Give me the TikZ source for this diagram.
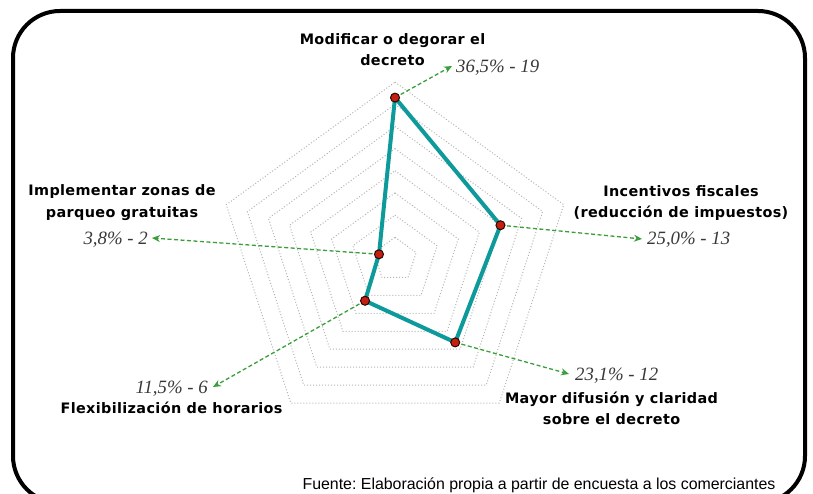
\documentclass[tikz,border=0pt]{standalone}
\usepackage{fontspec}
\setmainfont{Liberation Sans}
\newfontfamily\labfont{DejaVu Sans}[LetterSpace=2.5]
\newfontfamily\valfont{Liberation Serif}
\usetikzlibrary{arrows.meta,calc}
\definecolor{teal1}{HTML}{0E9A9A}
\definecolor{arrg}{HTML}{3A9E3A}
\definecolor{mred}{HTML}{C42010}
\definecolor{valc}{HTML}{383838}
\definecolor{gridc}{HTML}{B4B4B4}
\frenchspacing
\begin{document}
\begin{tikzpicture}[x=1pt,y=-1pt,
  lab/.style={font=\labfont\bfseries\fontsize{14.4}{21.5}\selectfont, inner sep=0pt, anchor=base, text=black},
  val/.style={font=\valfont\itshape\fontsize{18.8}{20}\selectfont, text=valc, inner sep=0pt},
  gridline/.style={gridc, line width=1pt, dash pattern=on 1pt off 2pt},
  callout/.style={arrg, line width=1.3pt, dash pattern=on 4pt off 2.5pt, -{Stealth[length=8pt,width=7pt]}},
  series/.style={teal1, line width=4pt, line join=round},
  marker/.style={circle, fill=mred, draw=black!80!mred, line width=1pt, minimum size=9pt, inner sep=0pt}
]
\useasboundingbox (0,0) rectangle (813,494);
\clip (0,0) rectangle (813,494);
\draw[line width=4pt, rounded corners=47pt] (13,11) rectangle (805,503);
\coordinate (c) at (395,259.5);
\begin{scope}[shift={(c)}]
\foreach \k in {1,...,8}{
  \pgfmathsetmacro\r{\k*22.175}
  \draw[gridline] (-90:\r) -- (-18:\r) -- (54:\r) -- (126:\r) -- (198:\r) -- cycle;
}
\end{scope}
% data points
\coordinate (q1) at ($(c)+(-90:161.9)$);
\coordinate (q2) at ($(c)+(-18:110.9)$);
\coordinate (q3) at ($(c)+(54:102.45)$);
\coordinate (q4) at ($(c)+(126:51.0)$);
\coordinate (q5) at ($(c)+(198:16.85)$);
% callout tips
\coordinate (t1) at (452,66);
\coordinate (t2) at (642,239);
\coordinate (t3) at (569,374);
\coordinate (t4) at (213,387);
\coordinate (t5) at (152,238);
\draw[callout] (q1) -- (t1);
\draw[callout] (q2) -- (t2);
\draw[callout] (q3) -- (t3);
\draw[callout] (q4) -- (t4);
\draw[callout] (q5) -- (t5);
\draw[series] (q1) -- (q2) -- (q3) -- (q4) -- (q5) -- cycle;
\foreach \i in {1,...,5} \node[marker] (m\i) at (q\i) {};
% category labels
\node[lab] (l1) at (392.5,65.7) {\begin{tabular}[b]{@{}c@{}}Modificar o degorar el\\decreto\end{tabular}};
\node[lab] (l2) at (681,218) {\begin{tabular}[b]{@{}c@{}}Incentivos fiscales\\(reducción de impuestos)\end{tabular}};
\node[lab] (l3) at (611.5,424.5) {\begin{tabular}[b]{@{}c@{}}Mayor difusión y claridad\\sobre el decreto\end{tabular}};
\node[lab] (l4) at (171.5,413) {Flexibilización de horarios};
\node[lab] (l5) at (122,217.5) {\begin{tabular}[b]{@{}c@{}}Implementar zonas de\\parqueo gratuitas\end{tabular}};
% values
\node[val, anchor=base west] (v1) at (456,72.7) {36,5\% - 19};
\node[val, anchor=base west] (v2) at (647,244) {25,0\% - 13};
\node[val, anchor=base west] (v3) at (575,380) {23,1\% - 12};
\node[val, anchor=base east] (v4) at (208,393) {11,5\% - 6};
\node[val, anchor=base east] (v5) at (148,244) {3,8\% - 2};
% source
\node[font=\fontsize{15.9}{18}\selectfont, anchor=base, inner sep=0pt] (src) at (539,489) {Fuente: Elaboración propia a partir de encuesta a los comerciantes};
\end{tikzpicture}
\end{document}
